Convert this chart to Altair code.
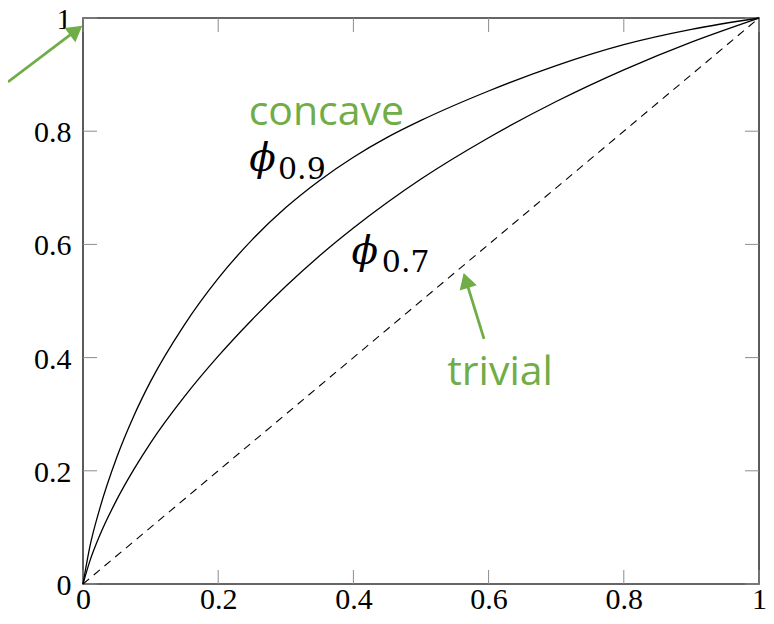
import altair as alt
import pandas as pd

# ---- data ----
X_GRID = [0, 0.01, 0.025, 0.05, 0.075, 0.1, 0.15, 0.2, 0.25, 0.3, 0.35, 0.4, 0.45, 0.5, 0.6, 0.7, 0.8, 0.9, 1.0]
PHI09_Y = [0, 0.065, 0.134, 0.224, 0.2965, 0.358, 0.458, 0.540, 0.608, 0.665, 0.713, 0.754, 0.789, 0.819,
           0.871, 0.916, 0.953, 0.980, 1.0]
PHI07_Y = [0, 0.04, 0.0865, 0.149, 0.202, 0.2495, 0.331, 0.4025, 0.467, 0.526, 0.580, 0.629, 0.674, 0.7155,
           0.7885, 0.8525, 0.9085, 0.9575, 1.0]
DIAG_X = [0, 1]
DIAG_Y = [0, 1]
TICKS = [0, 0.2, 0.4, 0.6, 0.8, 1.0]

GREEN = "#70AD47"
W, H = 676, 566

curves = pd.DataFrame({
    "x": X_GRID + X_GRID,
    "y": PHI09_Y + PHI07_Y,
    "s": ["0.9"] * len(X_GRID) + ["0.7"] * len(X_GRID),
})
diag = pd.DataFrame({"x": DIAG_X, "y": DIAG_Y})
ticks = pd.DataFrame({"v": TICKS})

xs = alt.Scale(domain=[0, 1], nice=False, zero=False)
ys = alt.Scale(domain=[0, 1], nice=False, zero=False)

xaxis = alt.Axis(values=TICKS, format=".1~f", ticks=False, tickSize=0, domain=False, grid=False,
                 labelFont="Liberation Serif", labelFontSize=30, labelColor="black",
                 labelBaseline="alphabetic", labelPadding=24,
                 labelFlush=False, labelOverlap=False, title=None)
yaxis = alt.Axis(values=TICKS, format=".1~f", ticks=False, tickSize=0, domain=False, grid=False,
                 labelFont="Liberation Serif", labelFontSize=30, labelColor="black",
                 labelPadding=12, labelOffset=1.5, labelFlush=False, labelOverlap=False, title=None)

base_lines = alt.Chart(curves).mark_line(color="black", strokeWidth=1.3, interpolate="monotone").encode(
    x=alt.X("x:Q", scale=xs, axis=xaxis),
    y=alt.Y("y:Q", scale=ys, axis=yaxis),
    detail="s:N",
    order="x:Q",
)

diag_line = alt.Chart(diag).mark_line(color="black", strokeWidth=1.1, strokeDash=[8, 6]).encode(
    x=alt.X("x:Q", scale=xs), y=alt.Y("y:Q", scale=ys)
)

tick_color = "#8c8c8c"
tb = alt.Chart(ticks).mark_rule(color=tick_color, strokeWidth=1).encode(
    x=alt.X("v:Q", scale=xs), y=alt.value(H), y2=alt.value(H - 14))
tt = alt.Chart(ticks).mark_rule(color=tick_color, strokeWidth=1).encode(
    x=alt.X("v:Q", scale=xs), y=alt.value(0), y2=alt.value(14))
tl = alt.Chart(ticks).mark_rule(color=tick_color, strokeWidth=1).encode(
    y=alt.Y("v:Q", scale=ys), x=alt.value(0), x2=alt.value(14))
tr = alt.Chart(ticks).mark_rule(color=tick_color, strokeWidth=1).encode(
    y=alt.Y("v:Q", scale=ys), x=alt.value(W), x2=alt.value(W - 14))

# ---- annotations ----
phi_df = pd.DataFrame({"x": [0.2655, 0.417], "y": [0.729, 0.565], "t": ["\u03d5", "\u03d5"]})
sub_df = pd.DataFrame({"x": [0.2885, 0.442], "y": [0.715, 0.5505], "t": ["0.9", "0.7"]})
green_df = pd.DataFrame({"x": [0.360, 0.617], "y": [0.8116, 0.351], "t": ["concave", "trivial"]})

phi_txt = alt.Chart(phi_df).mark_text(font="DejaVu Serif", fontStyle="italic", fontSize=39,
                                      align="center", baseline="alphabetic", color="black").encode(
    x=alt.X("x:Q", scale=xs), y=alt.Y("y:Q", scale=ys), text="t:N")
sub_txt = alt.Chart(sub_df).mark_text(font="DejaVu Serif", fontSize=30,
                                      align="left", baseline="alphabetic", color="black").encode(
    x=alt.X("x:Q", scale=xs), y=alt.Y("y:Q", scale=ys), text="t:N")
green_txt = alt.Chart(green_df).mark_text(font="Open Sans", fontSize=41,
                                          align="center", baseline="alphabetic", color=GREEN).encode(
    x=alt.X("x:Q", scale=xs), y=alt.Y("y:Q", scale=ys), text="t:N")

arrow_shaft = pd.DataFrame({
    "x": [0.5932, 0.5665, -0.111, -0.0102],
    "y": [0.433, 0.5364, 0.887, 0.978],
    "a": ["triv", "triv", "one", "one"],
})
arrow_head = pd.DataFrame({"x": [0.5665, -0.0102], "y": [0.5364, 0.978], "ang": [342.9, 52.8]})

shafts = alt.Chart(arrow_shaft).mark_line(color=GREEN, strokeWidth=2.8, clip=False).encode(
    x=alt.X("x:Q", scale=xs), y=alt.Y("y:Q", scale=ys), detail="a:N")
heads = alt.Chart(arrow_head).mark_point(shape="triangle-up", filled=True, size=320, color=GREEN,
                                         opacity=1, clip=False).encode(
    x=alt.X("x:Q", scale=xs), y=alt.Y("y:Q", scale=ys), angle=alt.Angle("ang:Q", scale=None))

chart = alt.layer(tb, tt, tl, tr, diag_line, base_lines, phi_txt, sub_txt, green_txt, shafts, heads).properties(
    width=W, height=H,
    background="white",
    autosize=alt.AutoSizeParams(type="none"),
    padding={"left": 75, "top": 10, "right": 7, "bottom": 32},
).configure_view(stroke="#333333", strokeWidth=1.6)

chart.save("out.html", embed_options={"renderer": "svg", "actions": False})
